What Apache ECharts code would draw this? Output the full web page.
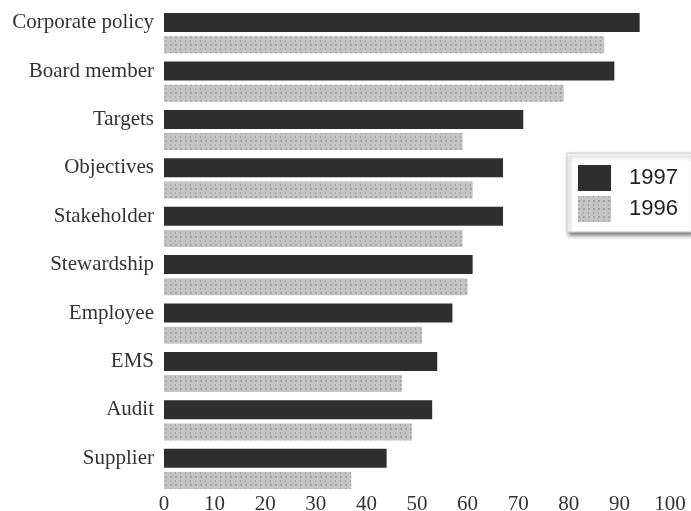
<!DOCTYPE html>
<html>
<head>
<meta charset="utf-8">
<script src="https://cdn.jsdelivr.net/npm/echarts@6/dist/echarts.min.js"></script>
<style>
  html, body { margin: 0; padding: 0; background: #fff; }
  #chart { width: 691px; height: 511px; }
</style>
</head>
<body>
<div id="chart"></div>
<script>
  var categories = ['Corporate policy', 'Board member', 'Targets', 'Objectives', 'Stakeholder',
    'Stewardship', 'Employee', 'EMS', 'Audit', 'Supplier'];
  var values1997 = [94, 89, 71, 67, 67, 61, 57, 54, 53, 44];
  var values1996 = [87, 79, 59, 61, 59, 60, 51, 47, 49, 37];
  var xTicks = [0, 10, 20, 30, 40, 50, 60, 70, 80, 90, 100];

  var myChart = echarts.init(document.getElementById('chart'));
  var option = {
    animation: false,
    backgroundColor: '#fff',
    legend: {
      data: ['1997', '1996'],
      orient: 'vertical',
      left: 567,
      top: 153,
      padding: [12, 14, 10, 11],
      icon: 'rect',
      itemWidth: 33,
      itemHeight: 26,
      itemGap: 5,
      backgroundColor: '#fff',
      borderColor: '#ccc',
      borderWidth: 1,
      shadowColor: 'rgba(0,0,0,0.5)',
      shadowBlur: 4,
      shadowOffsetX: 2,
      shadowOffsetY: 3,
      textStyle: {
        fontFamily: 'Liberation Sans',
        fontSize: 22,
        color: '#222',
        padding: [0, 0, 0, 13]
      }
    },
    grid: {
      left: 164,
      right: 21,
      top: 9,
      bottom: 18,
      outerBoundsMode: 'none'
    },
    xAxis: {
      type: 'value',
      min: 0,
      max: 100,
      interval: 10,
      splitLine: { show: false },
      axisLine: { show: false },
      axisTick: { show: false },
      axisLabel: {
        margin: 1,
        fontFamily: 'Liberation Serif',
        fontSize: 21,
        color: '#333',
        formatter: function (v) {
          return xTicks.indexOf(v) >= 0 ? String(v) : '';
        }
      }
    },
    yAxis: {
      type: 'category',
      inverse: true,
      data: categories,
      axisLine: { show: false },
      axisTick: { show: false },
      axisLabel: {
        margin: 10,
        fontFamily: 'Liberation Serif',
        fontSize: 21,
        color: '#333',
        verticalAlign: 'bottom'
      }
    },
    series: [{
      name: '1997',
      type: 'bar',
      barWidth: 19,
      barGap: '22%',
      itemStyle: { color: '#2e2e2e' },
      data: values1997
    }, {
      name: '1996',
      type: 'bar',
      barWidth: 17,
      itemStyle: {
        color: '#c4c4c4',
        decal: {
          symbol: 'rect',
          symbolSize: 1,
          color: 'rgba(110,110,110,0.35)',
          dashArrayX: [[2, 3], [1, 4]],
          dashArrayY: [2, 2],
          rotation: 0
        }
      },
      data: values1996
    }]
  };
  myChart.setOption(option);
</script>
</body>
</html>
